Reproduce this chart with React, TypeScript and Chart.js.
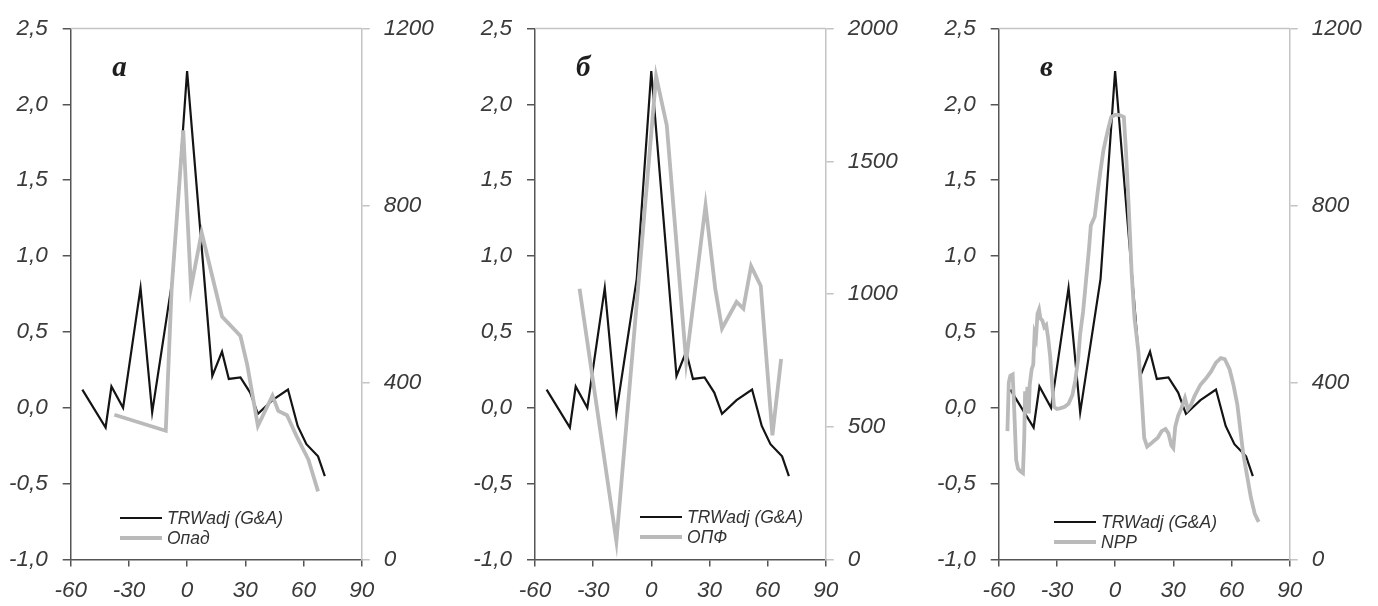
import React, { useEffect, useRef } from "react";
import { Chart, registerables } from "chart.js";

Chart.register(...registerables);

// ---- data ----
const xMin = -60;
const xMax = 90;
const xStep = 30;
const leftMin = -1;
const leftMax = 2.5;
const leftStep = 0.5;

const panelLetters = ["а", "б", "в"];
const trwName = "TRWadj (G&A)";
const secondNames = ["Опад", "ОПФ", "NPP"];
const rightMaxes = [1200, 2000, 1200];
const rightSteps = [400, 500, 400];

// TRWadj (G&A), left axis, same in all panels
const trwX = [-54, -42, -39, -33, -24, -18, -7.5, 0, 13, 18, 21.5, 27.5, 32.5, 36.5, 44, 52, 57, 61.5, 67.5, 71];
const trwY = [0.12, -0.13, 0.14, 0.0, 0.79, -0.03, 0.85, 2.22, 0.21, 0.37, 0.19, 0.2, 0.1, -0.04, 0.05, 0.12, -0.12, -0.24, -0.32, -0.45];

// Опад (panel а), right axis 0..1200
const opadX = [-37.5, -11, -8, -2, 2, 7.5, 18, 27.5, 31, 36.5, 44, 47, 51.5, 56.5, 62.5, 67.5];
const opadY = [327, 291, 610, 970, 614, 739, 549, 505, 440, 302, 370, 336, 326, 278, 226, 154];

// ОПФ (panel б), right axis 0..2000
const opfX = [-37, -18, 2.5, 8, 18, 28, 33, 36.5, 44, 47.5, 51.5, 56.5, 62.5, 67];
const opfY = [1020, 68, 1820, 1635, 745, 1334, 1020, 870, 970, 945, 1105, 1030, 468, 755];

// NPP (panel в), right axis 0..1200
const nppX = [
  -55.5, -54.8, -54, -52.8, -52, -51, -50, -48.5, -47.5, -46.8, -46.4, -45.8, -45.2, -44.5, -44, -43, -42.2,
  -41.5, -40.8, -40, -39.2, -38.5, -37.5, -36.5, -35.5, -34.5, -33.5, -32.5, -31.5, -30, -28, -26, -24, -22,
  -20.5, -19, -18, -16.5, -15, -13.5, -12.5, -10.5, -9, -7.5, -6, -4, -2, 0, 2, 4.5, 5.5, 7, 8.5, 10, 12,
  13.5, 15, 16.5, 18.5, 20, 22, 24, 26, 27.5, 29, 30, 31, 32.5, 34, 36, 37.5, 39, 41, 44, 47, 49.5, 52,
  54.5, 56.5, 59, 61, 63, 66, 68, 70, 72, 74,
];
const nppY = [
  290, 400, 415, 418, 340, 225, 205, 198, 195, 280, 380, 330, 390, 330, 395, 430, 440,
  510, 500, 555, 565, 545, 540, 525, 530, 500, 460, 400, 345, 340, 342, 345, 352, 372,
  405, 455, 510, 560, 630, 700, 755, 775, 830, 880, 925, 965, 1000, 1005, 1005, 1000, 930, 800, 650, 545, 470,
  380, 275, 255, 262, 268, 275, 290, 295, 285, 258, 252, 300, 325, 340, 365, 340, 348, 370, 395, 410, 425, 445,
  455, 453, 430, 395, 350, 240, 190, 140, 103, 85,
];

const secondX = [opadX, opfX, nppX];
const secondY = [opadY, opfY, nppY];

// ---- layout / style ----
const H = 606;
const panelLeft = [0, 460, 918];
const panelWidth = 460;
const axisLeftAbs = [70.7, 535, 998.7];
const axisRightAbs = [361.7, 825.7, 1289.7];
const plotTop = 24;
const plotBottom = 559.5;
const legendDx = [49.3, 105, 55.3];
const legendY = [518, 517, 522];
const letterDx = [41.5, 41, 41.3];

const tickFont = { family: 'Arial, "Liberation Sans", sans-serif', size: 22.5, style: "italic" as const };
const tickColor = "#3a3a3a";
const darkAxis = "#555555";
const lightAxis = "#c4c4c4";

const decorPlugin = {
  id: "decor",
  afterDraw(chart: any, _args: any, opts: any) {
    const { ctx, chartArea: ca } = chart;
    ctx.save();
    ctx.strokeStyle = lightAxis;
    ctx.lineWidth = 1.5;
    ctx.beginPath();
    ctx.moveTo(ca.left, ca.top);
    ctx.lineTo(ca.right, ca.top);
    ctx.stroke();

    ctx.font = 'italic bold 29px "Liberation Serif", "Times New Roman", serif';
    ctx.fillStyle = "#1e1e1e";
    ctx.textBaseline = "alphabetic";
    ctx.textAlign = "left";
    ctx.fillText(opts.letter, ca.left + opts.letterDx, 76);

    ctx.font = 'italic 17.5px Arial, "Liberation Sans", sans-serif';
    chart.data.datasets.forEach((ds: any, i: number) => {
      const y = opts.legendY + i * 20;
      const x0 = ca.left + opts.legendDx;
      ctx.strokeStyle = ds.borderColor;
      ctx.lineWidth = ds.borderWidth;
      ctx.beginPath();
      ctx.moveTo(x0, y);
      ctx.lineTo(x0 + 42, y);
      ctx.stroke();
      ctx.fillStyle = "#333333";
      ctx.textBaseline = "middle";
      ctx.fillText(ds.label, x0 + 47, y + 1);
    });
    ctx.restore();
  },
};

const fmtLeft = (v: any) => Number(v).toFixed(1).replace(".", ",");
const fmtRight = (v: any) => String(Math.round(Number(v)));

function makeConfig(i: number): any {
  const leftW = axisLeftAbs[i] - panelLeft[i];
  const rightW = panelLeft[i] + panelWidth - axisRightAbs[i];
  return {
    type: "scatter",
    data: {
      datasets: [
        {
          label: trwName,
          data: trwX.map((x, k) => ({ x, y: trwY[k] })),
          showLine: true,
          borderColor: "#141414",
          borderWidth: 2.2,
          pointRadius: 0,
          tension: 0,
          yAxisID: "y",
          order: 2,
        },
        {
          label: secondNames[i],
          data: secondX[i].map((x, k) => ({ x, y: secondY[i][k] })),
          showLine: true,
          borderColor: "#bababa",
          borderWidth: 3.8,
          pointRadius: 0,
          tension: 0,
          yAxisID: "y2",
          order: 1,
        },
      ],
    },
    options: {
      responsive: false,
      animation: false,
      devicePixelRatio: 1,
      layout: { padding: { top: plotTop, left: 0, right: 0, bottom: 0 } },
      plugins: {
        legend: { display: false },
        tooltip: { enabled: false },
        decor: { letter: panelLetters[i], letterDx: letterDx[i], legendDx: legendDx[i], legendY: legendY[i] },
      },
      scales: {
        x: {
          type: "linear",
          min: xMin,
          max: xMax,
          ticks: { stepSize: xStep, font: tickFont, color: tickColor, padding: 11, maxRotation: 0, autoSkip: false },
          grid: { drawOnChartArea: false, drawTicks: true, tickLength: 7, color: darkAxis, lineWidth: 1.5 },
          border: { display: true, color: darkAxis, width: 1.5 },
          afterFit: (s: any) => {
            s.height = H - plotBottom;
          },
        },
        y: {
          type: "linear",
          position: "left",
          min: leftMin,
          max: leftMax,
          ticks: { stepSize: leftStep, font: tickFont, color: tickColor, padding: 15, callback: fmtLeft },
          grid: { drawOnChartArea: false, drawTicks: true, tickLength: 8, color: darkAxis, lineWidth: 1.5 },
          border: { display: true, color: darkAxis, width: 1.5 },
          afterFit: (s: any) => {
            s.width = leftW;
          },
        },
        y2: {
          type: "linear",
          position: "right",
          min: 0,
          max: rightMaxes[i],
          ticks: { stepSize: rightSteps[i], font: tickFont, color: tickColor, padding: 14, callback: fmtRight },
          grid: { drawOnChartArea: false, drawTicks: true, tickLength: 8, color: lightAxis, lineWidth: 1.5 },
          border: { display: true, color: lightAxis, width: 1.5 },
          afterFit: (s: any) => {
            s.width = rightW;
          },
        },
      },
    },
    plugins: [decorPlugin],
  };
}

export default function App() {
  const refs = [useRef<HTMLCanvasElement>(null), useRef<HTMLCanvasElement>(null), useRef<HTMLCanvasElement>(null)];
  useEffect(() => {
    const charts = refs.map((r, i) => new Chart(r.current as HTMLCanvasElement, makeConfig(i)));
    return () => charts.forEach((c) => c.destroy());
  }, []);
  return (
    <div style={{ position: "absolute", left: 0, top: 0, width: 1378, height: H, background: "#ffffff" }}>
      {refs.map((r, i) => (
        <canvas
          key={i}
          ref={r}
          width={panelWidth}
          height={H}
          style={{ position: "absolute", left: panelLeft[i], top: 0, width: panelWidth, height: H }}
        />
      ))}
    </div>
  );
}
